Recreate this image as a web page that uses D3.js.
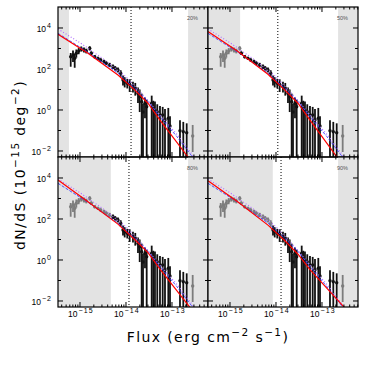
<!DOCTYPE html>
<html>
<head>
<meta charset="utf-8">
<script src="https://d3js.org/d3.v7.min.js"></script>
<style>
  body { margin: 0; background: #fff; }
  text { font-family: "Liberation Sans", Arial, Helvetica, sans-serif; }
  .title { font-family: "DejaVu Sans", sans-serif; letter-spacing: 1.4px; }
</style>
</head>
<body>
<svg id="chart" width="366" height="366"></svg>
<script>
// log10 of flux (erg cm^-2 s^-1) for each bin
var logFlux = [-15.202, -15.152, -15.115, -15.080, -15.028, -14.972, -14.913, -14.863, -14.789, -14.754,
  -14.680, -14.609, -14.550, -14.478, -14.428, -14.354, -14.283, -14.233, -14.174, -14.115,
  -14.065, -14.028, -13.972, -13.920, -13.848, -13.798, -13.739, -13.702, -13.659, -13.630,
  -13.587, -13.550, -13.441, -13.407, -13.370, -13.320, -13.261, -13.202, -13.152, -13.080,
  -13.043, -12.826, -12.754, -12.680, -12.550];
// log10 dN/dS and its error bar ends (-3 = down to zero)
var logDnds = [2.60, 2.68, 2.52, 2.77, 2.88, 2.98, 2.93, 2.88, 3.01, 2.77,
  2.60, 2.52, 2.44, 2.36, 2.28, 2.20, 2.11, 2.03, 1.95, 1.79,
  1.46, 1.38, 1.30, 1.25, 1.14, 1.06, 0.81, 0.65, 0.40, -0.10,
  0.33, 0.16, 0.33, 0.08, 0.00, -0.08, -0.24, -0.24, -0.49, -0.40,
  -0.78, -1.01, -1.06, -1.11, -1.27];
var logLo = [2.11, 2.34, 2.06, 2.55, 2.72, 2.85, 2.80, 2.76, 2.90, 2.68,
  2.52, 2.44, 2.36, 2.27, 2.19, 2.10, 2.00, 1.92, 1.83, 1.62,
  1.20, 1.10, 1.05, 0.88, 0.85, 0.70, 0.34, -0.10, -3, -3,
  -0.40, -3, -3, -3, -3, -3, -3, -3, -3, -3,
  -3, -3, -3, -3, -2.05];
var logHi = [2.78, 2.90, 2.75, 2.95, 3.02, 3.10, 3.05, 2.99, 3.11, 2.86,
  2.68, 2.60, 2.52, 2.45, 2.37, 2.30, 2.22, 2.14, 2.07, 1.94,
  1.68, 1.60, 1.52, 1.50, 1.38, 1.32, 1.10, 1.00, 0.80, 0.30,
  0.62, 0.50, 0.70, 0.45, 0.42, 0.28, 0.20, 0.15, 0.05, 0.10,
  -0.30, -0.50, -0.58, -0.65, -0.73];

// model curves [log S, log dN/dS]
var blueModel = [[-15.478, 3.74], [-14.83, 2.82], [-14.17, 1.80], [-13.81, 1.06], [-13.52, 0.42],
  [-13.26, -0.33], [-12.90, -1.28], [-12.55, -2.30]];
var violetModel = [[-15.478, 3.95], [-15.0, 3.28], [-14.5, 2.50], [-14.0, 1.62], [-13.6, 0.66],
  [-13.2, -0.40], [-12.85, -1.30], [-12.52, -2.30]];
var redTL = [[-15.478, 3.69], [-14.826, 2.77], [-14.174, 1.71], [-13.811, 0.98], [-13.522, 0.33], [-13.261, -0.49], [-12.646, -2.31]];
var redTR = [[-15.478, 3.83], [-14.826, 2.85], [-14.174, 1.74], [-13.811, 0.98], [-13.522, 0.33], [-13.261, -0.49], [-12.67, -2.31]];
var redBL = [[-15.478, 3.90], [-14.826, 2.84], [-14.174, 1.75], [-13.811, 1.00], [-13.522, 0.36], [-13.261, -0.45], [-12.61, -2.31]];
var redBR = [[-15.478, 3.87], [-14.826, 2.83], [-14.174, 1.70], [-13.811, 0.95], [-13.522, 0.28], [-13.261, -0.47], [-12.515, -2.31]];

var panelLabels = ["20%", "50%", "80%", "90%"];
var lowCuts = [-15.24, -14.78, -14.33, -14.07];
var highCuts = [-12.65, -12.65, -12.65, -12.65];
var breaks = [-13.89, -13.96, -13.935, -13.89];
var redLines = [redTL, redTR, redBL, redBR];

var xTicks = [-15, -14, -13];
var yTicks = [-2, 0, 2, 4];

var p10 = function (v) { return Math.pow(10, v); };
var svg = d3.select("#chart");
var size = 150, left = 58, top0 = 7;

var x = d3.scaleLog().domain([p10(-15.478), p10(-12.217)]).range([0, size]);
var y = d3.scaleLog().domain([p10(-2.293), p10(5.024)]).range([size, 0]);

var points = logFlux.map(function (s, i) {
    return { s: p10(s), n: p10(logDnds[i]), lo: p10(logLo[i]), hi: p10(logHi[i]), ls: s };
});

var line = d3.line()
    .x(function (d) { return x(p10(d[0])); })
    .y(function (d) { return y(p10(d[1])); });

// minor ticks
var xMinor = [];
[-16, -15, -14, -13].forEach(function (e) {
    for (var k = 2; k < 10; k++) {
        var v = k * p10(e);
        if (v > x.domain()[0] && v < x.domain()[1]) xMinor.push(v);
    }
});
var yMinor = [-1, 1, 3].map(p10);

panelLabels.forEach(function (lab, pi) {
    var col = pi % 2, row = Math.floor(pi / 2);
    var g = svg.append("g")
        .attr("transform", "translate(" + (left + col * size) + "," + (top0 + row * size) + ")");

    g.append("clipPath").attr("id", "clip" + pi)
        .append("rect").attr("width", size).attr("height", size);
    var inner = g.append("g").attr("clip-path", "url(#clip" + pi + ")");

    // excluded flux ranges
    inner.append("rect")
        .attr("x", 0).attr("y", 0)
        .attr("width", x(p10(lowCuts[pi]))).attr("height", size)
        .attr("fill", "#e3e3e3");
    inner.append("rect")
        .attr("x", x(p10(highCuts[pi]))).attr("y", 0)
        .attr("width", size - x(p10(highCuts[pi]))).attr("height", size)
        .attr("fill", "#e3e3e3");

    inner.append("line")
        .attr("x1", x(p10(breaks[pi]))).attr("x2", x(p10(breaks[pi])))
        .attr("y1", 0).attr("y2", size)
        .attr("stroke", "#000").attr("stroke-width", 1)
        .attr("stroke-dasharray", "1,2");

    var col_ = function (d) {
        return (d.ls >= lowCuts[pi] && d.ls <= highCuts[pi]) ? "#111" : "#7c7c7c";
    };

    inner.selectAll(".err").data(points).enter().append("line")
        .attr("class", "err")
        .attr("x1", function (d) { return x(d.s); })
        .attr("x2", function (d) { return x(d.s); })
        .attr("y1", function (d) { return Math.min(size + 2, y(d.lo)); })
        .attr("y2", function (d) { return y(d.hi); })
        .attr("stroke", col_).attr("stroke-width", 1.8);

    inner.selectAll(".pt").data(points).enter().append("circle")
        .attr("class", "pt")
        .attr("cx", function (d) { return x(d.s); })
        .attr("cy", function (d) { return y(d.n); })
        .attr("r", 1.7)
        .attr("fill", col_);

    inner.append("path").datum(blueModel)
        .attr("d", line).attr("fill", "none")
        .attr("stroke", "#3b3bff").attr("stroke-width", 0.9)
        .attr("stroke-dasharray", "3,1.5");
    inner.append("path").datum(violetModel)
        .attr("d", line).attr("fill", "none")
        .attr("stroke", "#b070ff").attr("stroke-width", 1.2)
        .attr("stroke-dasharray", "1,2");
    inner.append("path").datum(redLines[pi])
        .attr("d", line).attr("fill", "none")
        .attr("stroke", "#ff0000").attr("stroke-width", 1.2);

    // ticks
    var tk = g.append("g").attr("stroke", "#000").attr("stroke-width", 1);
    xTicks.map(p10).forEach(function (v) {
        tk.append("line").attr("x1", x(v)).attr("x2", x(v)).attr("y1", size).attr("y2", size - 5);
        tk.append("line").attr("x1", x(v)).attr("x2", x(v)).attr("y1", 0).attr("y2", 5);
    });
    xMinor.forEach(function (v) {
        tk.append("line").attr("x1", x(v)).attr("x2", x(v)).attr("y1", size).attr("y2", size - 2.5);
        tk.append("line").attr("x1", x(v)).attr("x2", x(v)).attr("y1", 0).attr("y2", 2.5);
    });
    yTicks.map(p10).concat(yMinor).forEach(function (v, i) {
        var len = i < yTicks.length ? 5 : 3;
        tk.append("line").attr("x1", 0).attr("x2", len).attr("y1", y(v)).attr("y2", y(v));
        tk.append("line").attr("x1", size).attr("x2", size - len).attr("y1", y(v)).attr("y2", y(v));
    });

    g.append("rect").attr("width", size).attr("height", size)
        .attr("fill", "none").attr("stroke", "#000").attr("stroke-width", 1.2);

    g.append("text")
        .attr("x", size - 10).attr("y", 13)
        .attr("text-anchor", "end")
        .attr("font-size", 5.5).attr("fill", "#555")
        .text(lab);

    // tick labels
    if (col === 0) {
        yTicks.forEach(function (e) {
            var t = g.append("text")
                .attr("x", -6).attr("y", y(p10(e)) + 4.3)
                .attr("text-anchor", "end").attr("font-size", 8.5);
            t.append("tspan").text("10");
            t.append("tspan").attr("dy", -4).attr("dx", 1).attr("font-size", 7)
                .attr("letter-spacing", 1).text(e < 0 ? "\u2212" + (-e) : e);
        });
    }
    if (row === 1) {
        xTicks.forEach(function (e) {
            var t = g.append("text")
                .attr("x", x(p10(e)) + 1).attr("y", size + 10)
                .attr("text-anchor", "middle").attr("font-size", 8.5);
            t.append("tspan").text("10");
            t.append("tspan").attr("dy", -4).attr("dx", 1).attr("font-size", 7)
                .attr("letter-spacing", 1.2).text("\u2212" + (-e));
        });
    }
});

// axis titles
var xt = svg.append("text").attr("class", "title")
    .attr("x", left + size).attr("y", 341.5)
    .attr("text-anchor", "middle").attr("font-size", 14);
xt.append("tspan").text("Flux (erg cm");
xt.append("tspan").attr("dy", -6).attr("font-size", 10.5).text("\u22122");
xt.append("tspan").attr("dy", 6).text(" s");
xt.append("tspan").attr("dy", -6).attr("font-size", 10.5).text("\u22121");
xt.append("tspan").attr("dy", 6).text(")");

var yt = svg.append("text").attr("class", "title")
    .attr("transform", "translate(25,165) rotate(-90)")
    .attr("text-anchor", "middle").attr("font-size", 14);
yt.append("tspan").text("dN/dS (10");
yt.append("tspan").attr("dy", -6).attr("font-size", 10.5).text("\u221215");
yt.append("tspan").attr("dy", 6).text(" deg");
yt.append("tspan").attr("dy", -6).attr("font-size", 10.5).text("\u22122");
yt.append("tspan").attr("dy", 6).text(")");
</script>
</body>
</html>
